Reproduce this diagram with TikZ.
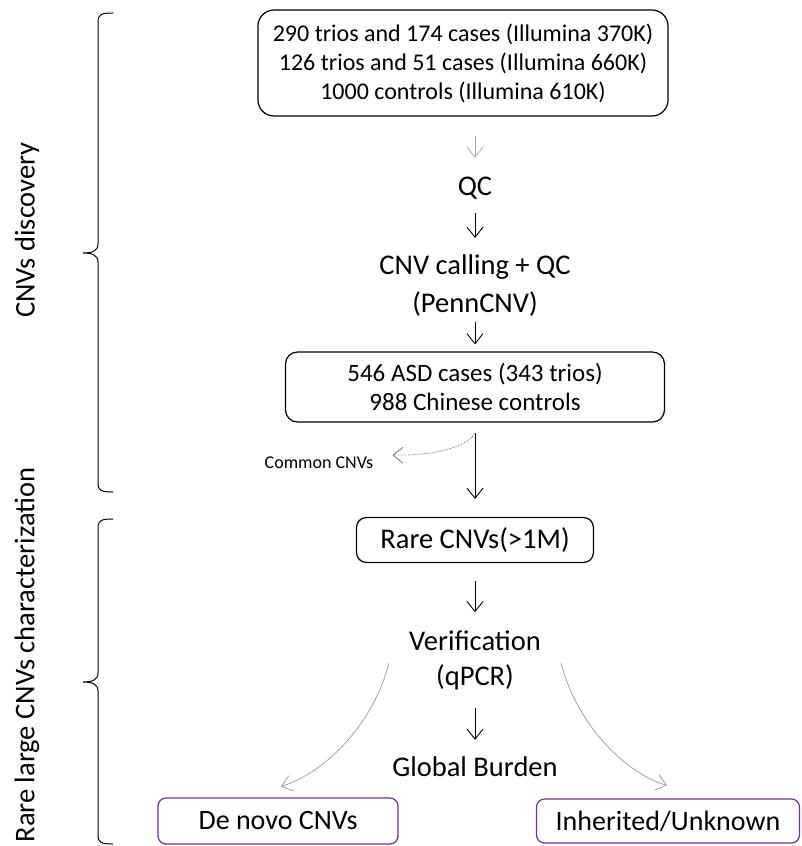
\documentclass[tikz,border=0pt]{standalone}
\usepackage{fontspec}
\setmainfont{Carlito}
\usepackage{tikz}
\usetikzlibrary{calc}
\usetikzlibrary{positioning}
\usetikzlibrary{arrows.meta}
\definecolor{boxpurple}{RGB}{112,48,160}

\begin{document}
\begin{tikzpicture}[x=1pt, y=-1pt,
		>={Straight Barb[length=10pt,width=16pt]},
		box/.style={draw, line width=1.2pt, rounded corners=10pt, align=center, inner sep=0pt},
		purplebox/.style={box, draw=boxpurple, rounded corners=8pt},
		label/.style={align=center, inner sep=0pt, font=\fontsize{28.5}{36}\selectfont},
		flow/.style={->, line width=0.9pt},
		faint/.style={->, line width=0.7pt, gray!80}]
				\useasboundingbox (0,0) rectangle (802,846);
				
				\node[box, rounded corners=16pt, minimum width=410, minimum height=106, font=\fontsize{24}{29}\selectfont] (samples) at (463,63) {290 trios and 174 cases (Illumina 370K)\\126 trios and 51 cases (Illumina 660K)\\1000 controls (Illumina 610K)};
				\node[label] (qc) at (475,188) {QC};
				\node[label, font=\fontsize{28.5}{38}\selectfont] (calling) at (475,286) {CNV calling + QC\\(PennCNV)};
				\node[box, rounded corners=12pt, minimum width=379, minimum height=70, font=\fontsize{25}{29}\selectfont] (cohort) at (475,387) {546 ASD cases (343 trios)\\988 Chinese controls};
				\node[label, font=\fontsize{18}{22}\selectfont] (common) at (319,463) {Common CNVs};
				\node[box, minimum width=237, minimum height=45, font=\fontsize{28.5}{36}\selectfont] (rare) at (475,540) {Rare CNVs(>1M)};
				\node[label, font=\fontsize{28.5}{35}\selectfont] (verif) at (475,660) {Verification\\(qPCR)};
				\node[label] (burden) at (475,767) {Global Burden};
				\node[purplebox, minimum width=240, minimum height=46, font=\fontsize{28}{34}\selectfont] (denovo) at (278,821) {De novo CNVs};
				\node[purplebox, minimum width=263, minimum height=44, font=\fontsize{28}{34}\selectfont] (inherit) at (668,821) {Inherited/Unknown};
				
				\node[label, rotate=90] (discovery) at (27,230) {CNVs discovery};
				\node[label, rotate=90] (characterization) at (27,655) {Rare large CNVs characterization};
				
				% main flow
				\draw[faint, gray!70, shorten <=19pt, shorten >=19pt] (samples.south -| qc.north) -- (qc.north);
				\draw[flow, shorten <=14pt, shorten >=17pt] (qc.south) -- (calling.north);
				\draw[flow, shorten <=5pt, shorten >=7pt] (calling.south) -- (cohort.north);
				\draw[flow, shorten <=10pt, shorten >=18pt] (cohort.south) -- (rare.north);
				\draw[flow, shorten <=18pt, shorten >=18pt] (rare.south) -- (verif.north);
				\draw[flow, shorten <=18pt, shorten >=17pt] (verif.south) -- (burden.north);
				
				% side branches
				\draw[->, line width=0.7pt, gray!80!black, densely dotted] ([yshift=-11pt]cohort.south) .. controls (466,447) and (435,456) .. ([xshift=19pt,yshift=8pt]common.east);
				\draw[faint] ([xshift=-20pt,yshift=-3pt]verif.west) .. controls (372,728) and (322,774) .. ([xshift=3pt,yshift=11pt]denovo.north);
				\draw[faint] ([xshift=20pt,yshift=-3pt]verif.east) .. controls (578,728) and (628,774) .. ([xshift=-1pt,yshift=13pt]inherit.north);
				
				% braces
				\draw[line width=1pt] (113,13) .. controls (102,13) and (98,14) .. (98,22) -- (98,244) .. controls (98,251) and (92,253) .. (83,253) .. controls (92,253) and (98,255) .. (98,262) -- (98,483) .. controls (98,491) and (102,492) .. (113,492);
				\draw[line width=1pt] (113,519) .. controls (102,519) and (98,520) .. (98,528) -- (98,673) .. controls (98,680) and (92,682) .. (83,682) .. controls (92,682) and (98,684) .. (98,691) -- (98,835) .. controls (98,843) and (102,844) .. (113,844);
			\end{tikzpicture}
\end{document}
